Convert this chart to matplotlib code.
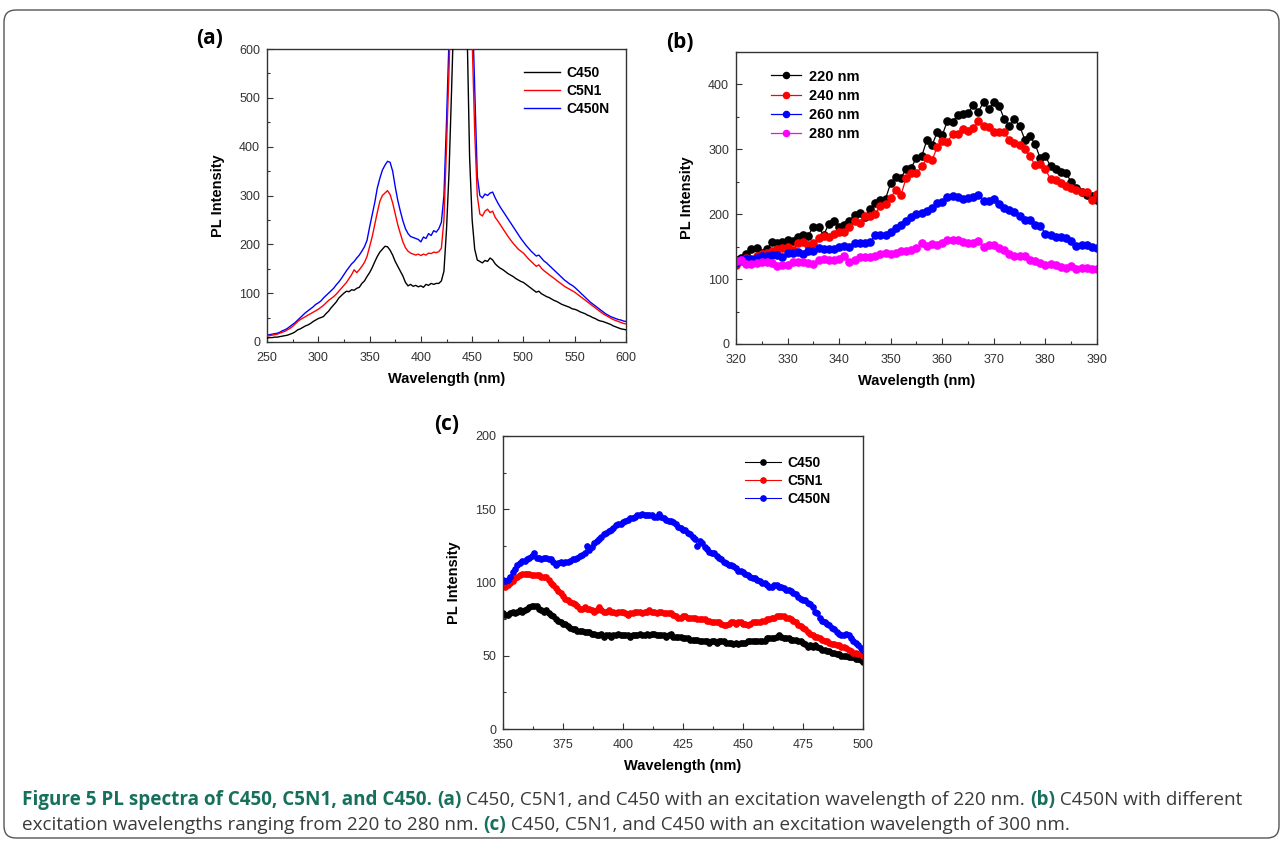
import numpy as np
import matplotlib
matplotlib.use('Agg')
import matplotlib.pyplot as plt
from matplotlib.patches import FancyBboxPatch
from matplotlib.ticker import MultipleLocator

plt.rcParams['font.family'] = ['Liberation Sans', 'DejaVu Sans']

# ---- panel (a): excitation 220 nm, 2.5 nm steps from 250 to 600 nm
wl_a = np.arange(250, 600.1, 2.5)
a_c450 = [8, 9, 9, 10, 10, 11, 12, 13, 14, 16,
          18, 21, 25, 27, 30, 33, 35, 38, 42, 45,
          48, 50, 52, 58, 63, 70, 76, 82, 90, 95,
          100, 104, 103, 107, 106, 110, 112, 120, 125, 134,
          142, 152, 164, 175, 184, 190, 196, 195, 188, 178,
          165, 155, 145, 135, 122, 115, 118, 114, 116, 113,
          115, 112, 118, 116, 120, 118, 120, 120, 125, 145,
          230, 350, 520, 700, 950, 1100, 1050, 900, 650, 380,
          250, 190, 168, 165, 162, 167, 165, 172, 168, 160,
          155, 151, 148, 144, 140, 137, 134, 130, 127, 124,
          122, 118, 114, 110, 106, 102, 104, 99, 96, 93,
          91, 88, 85, 83, 80, 77, 75, 73, 71, 68,
          67, 65, 62, 60, 58, 55, 53, 50, 48, 45,
          43, 42, 40, 38, 36, 33, 31, 29, 27, 26,
          25]
a_c5n1 = [12, 13, 14, 15, 16, 18, 20, 22, 25, 28,
          32, 37, 42, 46, 49, 52, 55, 58, 61, 64,
          67, 71, 75, 80, 85, 89, 93, 98, 104, 110,
          116, 122, 130, 138, 148, 142, 148, 155, 163, 175,
          195, 215, 240, 265, 288, 300, 305, 310, 302, 285,
          262, 240, 222, 205, 193, 186, 182, 180, 178, 180,
          177, 180, 178, 182, 181, 184, 183, 185, 192, 250,
          400, 560, 750, 1000, 1200, 1300, 1250, 1100, 900, 750,
          620, 430, 300, 262, 258, 268, 272, 265, 268, 255,
          248, 240, 232, 224, 216, 209, 202, 196, 190, 186,
          182, 176, 170, 165, 160, 155, 158, 151, 146, 142,
          138, 134, 130, 126, 122, 118, 114, 111, 108, 105,
          102, 98, 94, 90, 86, 82, 78, 74, 70, 66,
          62, 58, 55, 52, 49, 46, 44, 42, 40, 38,
          37]
a_c450n = [14, 15, 16, 17, 18, 20, 23, 25, 28, 32,
           36, 40, 45, 50, 55, 60, 64, 68, 72, 77,
           80, 84, 90, 95, 100, 105, 110, 117, 123, 130,
           138, 146, 153, 160, 165, 172, 178, 186, 195, 208,
           235, 260, 285, 315, 335, 352, 362, 370, 368, 350,
           318, 290, 268, 248, 232, 222, 216, 214, 212, 210,
           205, 215, 212, 222, 218, 228, 225, 232, 245, 300,
           450, 620, 800, 1050, 1250, 1350, 1300, 1150, 950, 820,
           700, 520, 340, 300, 295, 303, 300, 305, 307, 295,
           285, 276, 268, 260, 252, 244, 236, 228, 220, 212,
           205, 198, 192, 186, 181, 176, 178, 172, 166, 162,
           157, 152, 147, 142, 137, 132, 127, 123, 119, 116,
           112, 107, 102, 97, 92, 87, 82, 78, 74, 70,
           66, 62, 58, 55, 52, 50, 48, 46, 45, 43,
           42]

# ---- panel (b): C450N at different excitation wavelengths, 1 nm steps
wl_b = np.arange(320, 391)
b_220 = [130, 133, 138, 146, 148, 140, 147, 157, 155, 157,
         161, 158, 165, 168, 167, 181, 180, 168, 185, 189,
         180, 184, 190, 199, 202, 196, 208, 218, 222, 224,
         248, 257, 256, 270, 272, 287, 289, 314, 306, 326,
         322, 344, 342, 353, 354, 356, 368, 358, 373, 362,
         373, 367, 347, 336, 346, 336, 315, 320, 308, 286,
         289, 274, 270, 265, 263, 250, 240, 235, 230, 228,
         222]
b_240 = [122, 128, 133, 130, 135, 138, 140, 144, 146, 148,
         150, 145, 155, 157, 153, 155, 163, 166, 165, 170,
         172, 173, 180, 190, 187, 198, 197, 200, 213, 215,
         225, 238, 230, 256, 264, 263, 274, 286, 283, 303,
         313, 312, 323, 324, 331, 328, 333, 343, 336, 335,
         327, 327, 327, 314, 309, 306, 300, 289, 276, 278,
         269, 254, 253, 248, 243, 240, 238, 234, 235, 222,
         231]
b_260 = [125, 130, 131, 131, 132, 135, 135, 137, 137, 134,
         140, 140, 142, 138, 143, 143, 148, 147, 146, 147,
         149, 151, 149, 155, 156, 155, 157, 168, 168, 168,
         172, 179, 184, 189, 196, 201, 202, 205, 209, 218,
         219, 226, 228, 226, 224, 225, 227, 230, 220, 221,
         223, 216, 210, 207, 204, 197, 191, 191, 183, 182,
         170, 168, 165, 165, 164, 158, 151, 152, 152, 150,
         148]
b_280 = [128, 129, 123, 123, 125, 127, 126, 125, 120, 122,
         121, 126, 126, 126, 125, 124, 129, 131, 129, 129,
         131, 135, 127, 130, 134, 134, 134, 136, 138, 140,
         139, 140, 144, 144, 145, 148, 155, 151, 154, 153,
         156, 160, 160, 160, 157, 156, 155, 158, 150, 152,
         152, 148, 145, 138, 136, 135, 135, 130, 128, 125,
         122, 123, 121, 119, 117, 120, 116, 117, 117, 116,
         115]

# ---- panel (c): excitation 300 nm, 1 nm steps
wl_c = np.arange(350, 501)
c_c450 = [79, 78, 78, 79, 80, 79, 80, 81, 80, 81,
          82, 83, 84, 84, 84, 82, 81, 80, 81, 79,
          78, 77, 75, 74, 73, 72, 72, 70, 69, 68,
          68, 67, 67, 67, 66, 66, 66, 65, 65, 64,
          64, 65, 63, 64, 64, 63, 64, 64, 65, 64,
          64, 64, 64, 63, 64, 64, 64, 65, 64, 64,
          65, 64, 65, 65, 64, 64, 64, 64, 63, 64,
          65, 63, 63, 63, 63, 62, 62, 62, 61, 61,
          61, 61, 60, 60, 60, 60, 59, 60, 60, 59,
          60, 60, 60, 59, 59, 59, 58, 59, 58, 59,
          59, 59, 60, 60, 60, 60, 60, 60, 60, 60,
          62, 62, 62, 62, 63, 64, 63, 62, 62, 62,
          61, 61, 61, 60, 60, 59, 58, 56, 57, 56,
          57, 56, 55, 54, 54, 53, 53, 52, 52, 51,
          51, 50, 50, 50, 49, 49, 49, 48, 48, 47,
          46]
c_c5n1 = [98, 97, 98, 100, 101, 103, 104, 105, 106, 106,
          106, 106, 105, 105, 105, 105, 104, 104, 104, 102,
          100, 98, 96, 94, 93, 91, 89, 88, 87, 86,
          85, 84, 82, 82, 83, 82, 82, 81, 80, 81,
          83, 81, 80, 80, 81, 80, 80, 79, 80, 80,
          80, 79, 78, 79, 79, 80, 80, 80, 79, 80,
          80, 81, 80, 80, 79, 80, 80, 79, 79, 79,
          79, 78, 77, 76, 76, 77, 77, 76, 76, 76,
          76, 75, 75, 75, 75, 74, 74, 73, 73, 73,
          73, 72, 71, 71, 72, 73, 73, 72, 73, 73,
          72, 72, 71, 72, 73, 73, 73, 73, 74, 74,
          75, 75, 76, 76, 77, 77, 77, 77, 76, 76,
          75, 74, 73, 71, 70, 69, 68, 66, 65, 64,
          63, 63, 62, 61, 60, 60, 59, 58, 58, 57,
          57, 56, 56, 55, 54, 53, 52, 52, 51, 51,
          50]
c_c450n = [102, 101, 102, 104, 107, 109, 112, 113, 115, 115,
           116, 117, 118, 120, 117, 117, 116, 117, 117, 116,
           116, 114, 112, 113, 114, 113, 114, 114, 115, 116,
           116, 117, 118, 119, 120, 125, 122, 124, 127, 128,
           130, 131, 133, 134, 135, 136, 137, 139, 140, 140,
           141, 142, 143, 144, 144, 145, 146, 146, 147, 146,
           146, 146, 146, 145, 145, 147, 145, 144, 143, 142,
           142, 141, 140, 138, 137, 136, 136, 134, 133, 131,
           130, 125, 128, 127, 124, 123, 121, 120, 120, 118,
           117, 116, 114, 113, 112, 112, 111, 110, 108, 108,
           107, 106, 105, 104, 103, 103, 102, 101, 100, 100,
           98, 97, 97, 98, 98, 97, 97, 96, 95, 95,
           94, 93, 92, 90, 89, 88, 88, 86, 85, 83,
           80, 79, 76, 74, 73, 72, 71, 69, 68, 66,
           65, 64, 64, 65, 64, 62, 60, 59, 57, 55,
           54]

W, H = 1284, 842
fig = plt.figure(figsize=(W / 100, H / 100), dpi=100)
fig.patch.set_facecolor('white')


def px_axes(left, top, right, bottom):
    return fig.add_axes([left / W, 1 - bottom / H, (right - left) / W, (bottom - top) / H])


def style(ax, xmaj, ymaj):
    for s in ax.spines.values():
        s.set_color('#333333')
        s.set_linewidth(1.0)
    ax.xaxis.set_major_locator(MultipleLocator(xmaj))
    ax.xaxis.set_minor_locator(MultipleLocator(xmaj / 2))
    ax.yaxis.set_major_locator(MultipleLocator(ymaj))
    ax.yaxis.set_minor_locator(MultipleLocator(ymaj / 2))
    ax.tick_params(which='both', direction='in', top=False, right=False,
                   colors='#333333', labelsize=9, labelcolor='#333333')
    ax.tick_params(which='major', length=4, width=0.8)
    ax.tick_params(which='minor', length=2.5, width=0.8)
    ax.tick_params(axis='x', pad=7)
    ax.tick_params(axis='y', pad=5)
    ax.set_xlabel('Wavelength (nm)', fontsize=10.5, fontweight='bold', labelpad=6)
    ax.set_ylabel('PL Intensity', fontsize=10.5, fontweight='bold', labelpad=10)


# (a)
ax1 = px_axes(267, 49, 626, 342)
ax1.plot(wl_a, a_c450n, color='#0000ff', lw=1.0, label='C450N', zorder=2)
ax1.plot(wl_a, a_c5n1, color='#ff0000', lw=1.0, label='C5N1', zorder=3)
ax1.plot(wl_a, a_c450, color='black', lw=1.0, label='C450', zorder=4)
ax1.set_xlim(250, 600)
ax1.set_ylim(0, 600)
style(ax1, 50, 100)
h, l = ax1.get_legend_handles_labels()
ax1.legend(h[::-1], l[::-1], loc='upper right', bbox_to_anchor=(0.99, 0.985), frameon=False,
           prop={'weight': 'bold', 'size': 10}, handlelength=2.6, labelspacing=0.3,
           handletextpad=0.5)

# (b)
ax2 = px_axes(736, 52, 1097, 344)
cols_b = ['black', '#ff0000', '#0000ff', '#ff00ff']
for ys, c, lab in zip([b_220, b_240, b_260, b_280], cols_b,
                      ['220 nm', '240 nm', '260 nm', '280 nm']):
    ax2.plot(wl_b, ys, color=c, lw=0.9, marker='o', markersize=5.2, label=lab)
ax2.set_xlim(320, 390)
ax2.set_ylim(0, 450)
style(ax2, 10, 100)
ax2.legend(loc='upper left', bbox_to_anchor=(0.06, 0.985), frameon=False,
           prop={'weight': 'bold', 'size': 10.5}, handlelength=2.1, labelspacing=0.35,
           handletextpad=0.5, numpoints=1, markerscale=0.85)

# (c)
ax3 = px_axes(503, 436, 863, 729)
for ys, c, lab in zip([c_c450, c_c5n1, c_c450n], ['black', '#ff0000', '#0000ff'],
                      ['C450', 'C5N1', 'C450N']):
    ax3.plot(wl_c, ys, color=c, lw=0.8, marker='o', markersize=3.8, label=lab)
ax3.set_xlim(350, 500)
ax3.set_ylim(0, 200)
style(ax3, 25, 50)
ax3.legend(loc='upper right', bbox_to_anchor=(0.945, 0.975), frameon=False,
           prop={'weight': 'bold', 'size': 10}, handlelength=2.6, labelspacing=0.3,
           handletextpad=0.5, numpoints=1)

# panel letters
for txt, x, y in [('(a)', 210, 38), ('(b)', 680, 42), ('(c)', 447, 425)]:
    fig.text(x / W, 1 - y / H, txt, fontsize=15, fontweight='bold',
             ha='center', va='center', family=['Open Sans', 'DejaVu Sans'])

# outer rounded frame
frame = FancyBboxPatch((4 / 100, 4 / 100), 12.75, 8.28,
                       boxstyle='round,pad=0,rounding_size=0.12',
                       transform=fig.dpi_scale_trans, fill=False,
                       edgecolor='#555555', linewidth=1.0)
fig.patches.append(frame)

# caption
teal = '#17705c'
grey = '#3a3a3a'
renderer = fig.canvas.get_renderer()


def caption_line(pieces, x0, y):
    x = x0
    for txt, bold, col in pieces:
        t = fig.text(x / W, 1 - y / H, txt, fontsize=13.6, color=col,
                     fontweight='bold' if bold else 'normal', va='center', ha='left',
                     family=['Open Sans', 'DejaVu Sans'])
        bb = t.get_window_extent(renderer=renderer)
        x += bb.width


caption_line([('Figure 5 PL spectra of C450, C5N1, and C450.', True, teal),
              (' ', False, grey), ('(a)', True, teal),
              (' C450, C5N1, and C450 with an excitation wavelength of 220 nm. ', False, grey),
              ('(b)', True, teal), (' C450N with different', False, grey)], 22, 800)
caption_line([('excitation wavelengths ranging from 220 to 280 nm. ', False, grey),
              ('(c)', True, teal),
              (' C450, C5N1, and C450 with an excitation wavelength of 300 nm.', False, grey)],
             22, 825)

fig.savefig('out.png', dpi=100)
